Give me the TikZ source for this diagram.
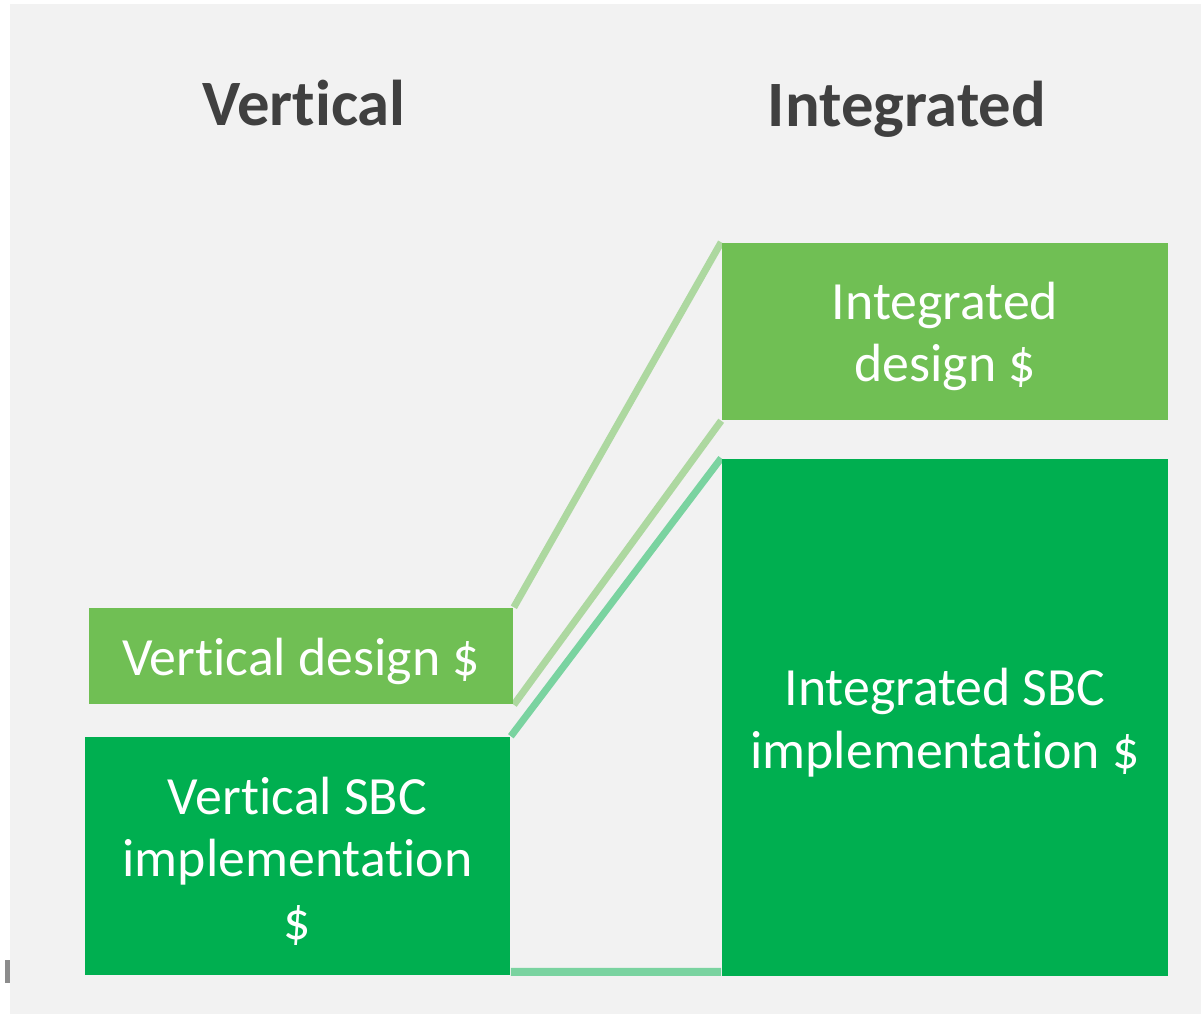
\documentclass[tikz,border=0pt]{standalone}
\usepackage{fontspec}
\setmainfont{Carlito}[Ligatures=NoCommon]
\definecolor{paper}{HTML}{F2F2F2}
\definecolor{leaf}{HTML}{70BF54}
\definecolor{grass}{HTML}{00AF50}
\definecolor{leaflink}{HTML}{ADD8A0}
\definecolor{grasslink}{HTML}{7AD3A0}
\definecolor{ink}{HTML}{404040}
\pgfdeclarelayer{back}
\pgfdeclarelayer{links}
\pgfsetlayers{back,links,main}

\begin{document}
\begin{tikzpicture}[x=0.01cm,y=-0.01cm,font=\fontsize{15.3}{17.8}\selectfont,
 head/.style={font=\bfseries\fontsize{18.4}{20}\selectfont,text=ink,anchor=base},
 cost/.style={inner sep=0pt},
 costtext/.style={text=white,align=center,inner sep=0pt,yshift=-0.05cm},
 link/.style={line width=2pt}]
\path[use as bounding box] (0,0) rectangle (1201,1014);
\begin{pgfonlayer}{back}
\fill[paper] (10,4) rectangle (1201,1014);
\fill[gray!90] (5,960) rectangle (9.5,983);
\end{pgfonlayer}
\node[head] (hv) at (304,125) {Vertical};
\node[head] (hi) at (907,126) {Integrated};
% cost blocks, text set as centre labels
\node[cost,fill=leaf,minimum width=4.24cm,minimum height=0.96cm,
 label={[costtext]center:Vertical design \$}] (vd) at (301,656) {};
\node[cost,fill=grass,minimum width=4.25cm,minimum height=2.38cm,
 label={[costtext]center:Vertical SBC\\implementation\\\$}] (vs) at (297.5,856) {};
\node[cost,fill=leaf,minimum width=4.46cm,minimum height=1.77cm,
 label={[costtext]center:Integrated\\design \$}] (id) at (945,331.5) {};
\node[cost,fill=grass,minimum width=4.46cm,minimum height=5.17cm,
 label={[costtext]center:Integrated SBC\\implementation \$}] (is) at (945,717.5) {};
\begin{pgfonlayer}{links}
\draw[link,leaflink] (vd.north east) -- (id.north west);
\draw[link,leaflink] (vd.south east) -- (id.south west);
\draw[link,grasslink] (vs.north east) -- (is.north west);
\draw[link,grasslink,line width=2.3pt] ([yshift=0.04cm]vs.south east) -- ([yshift=0.05cm]is.south west);
\end{pgfonlayer}
\end{tikzpicture}
\end{document}
